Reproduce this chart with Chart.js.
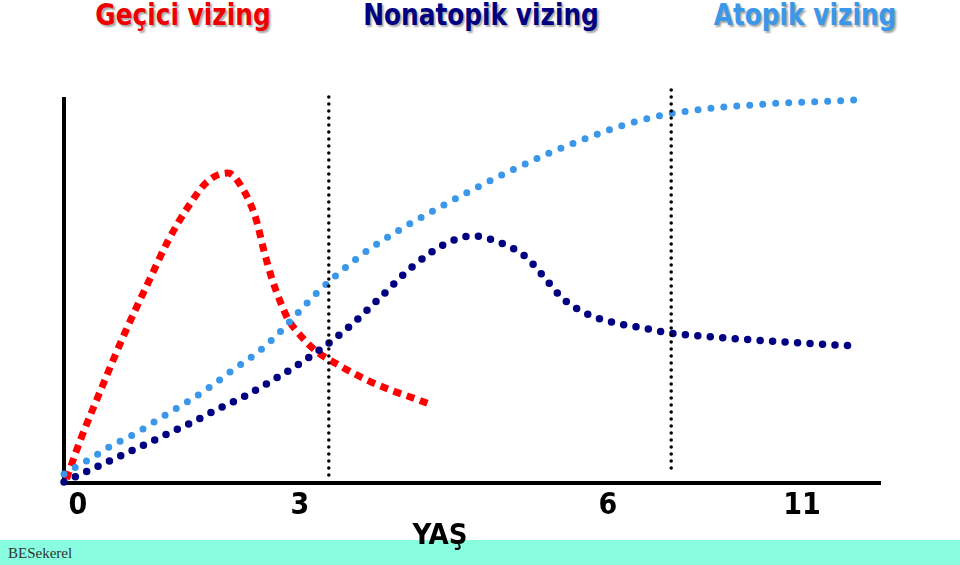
<!DOCTYPE html>
<html>
<head>
<meta charset="utf-8">
<script src="https://cdn.jsdelivr.net/npm/chart.js@4"></script>
<style>
  body { margin: 0; width: 960px; height: 565px; position: relative; overflow: hidden; background: #fff; }
  #footer { position: absolute; left: 0; top: 540px; width: 960px; height: 25px; background: #88fde0; }
  #credit { position: absolute; left: 8px; top: 545px; font: 15px "Liberation Serif", serif; color: #333; }
  .head { position: absolute; top: -3px; width: 300px; text-align: center;
          font-family: "DejaVu Sans Condensed", "DejaVu Sans", sans-serif; font-weight: bold; font-size: 30px;
          transform: scaleX(0.92);
          text-shadow: 2px 2px 2px rgba(0,0,0,0.35); }
  #yas { position: absolute; left: 390px; top: 517px; width: 100px; text-align: center;
         font-family: "DejaVu Sans Condensed", "DejaVu Sans", sans-serif; font-weight: bold; font-size: 29px; color: #000; }
  #wrap { position: absolute; left: 0; top: 0; width: 960px; height: 565px; }
</style>
</head>
<body>
<div id="footer"></div>
<div id="credit">BESekerel</div>
<div class="head" style="left:33px;color:#ee0000">Geçici vizing</div>
<div class="head" style="left:331px;color:#000080">Nonatopik vizing</div>
<div class="head" style="left:655px;color:#3a97ea">Atopik vizing</div>
<div id="wrap"><canvas id="graph" width="960" height="565"></canvas></div>
<div id="yas">YAŞ</div>
<script>
// x is in chart units (0..102), labels for age are placed at tickValues
const tickValues = [1.75, 29.5, 68, 92.25];
const tickLabels = ['0', '3', '6', '11'];

// Geçici vizing (red)
const gecX = [0.3, 2, 4.75, 7.6, 10.5, 13, 15.5, 18, 20.5, 22.5, 24, 25, 26, 27, 28, 29.5, 31.5, 34.5, 37.6, 40.75, 44, 46];
const gecY = [1, 10.5, 24, 37.5, 50, 60.5, 69, 75.5, 77.5, 73, 66, 58, 51, 45.5, 41, 37, 33, 29.3, 26, 23.3, 21, 19.5];

// Nonatopik vizing (navy)
const nonX = [0, 3.25, 6.5, 9.75, 12.9, 16.1, 19.25, 22.4, 25.5, 28.6, 31.6, 35.75, 39.6, 43.5, 47.9, 51.1, 54.6, 57.75, 60.1, 62.4, 65.4, 68.9, 72.4, 75.75, 82.9, 89.9, 99];
const nonY = [0.25, 3.25, 6.25, 9.25, 12.25, 15.25, 18.5, 21.5, 25, 28.75, 32.75, 39.25, 46.5, 54, 60, 61.75, 60, 56.5, 51.25, 46, 42.25, 40, 38.75, 37.5, 36.25, 35.25, 34.25];

// Atopik vizing (light blue)
const atoX = [0, 3, 6.1, 9.25, 12.25, 15.4, 18.25, 21.1, 24.1, 26.75, 29.1, 31.6, 37, 41.5, 46.1, 50.75, 55.5, 60.4, 65.4, 70.4, 75.5, 79.1, 82.6, 86.1, 89.75, 93.25, 98.9];
const atoY = [2.25, 5.75, 9.5, 12.75, 16.5, 20.25, 24, 28.25, 32.5, 37.25, 42.25, 47.5, 56.75, 62.75, 68, 73, 77.75, 82.25, 86.25, 89.75, 92.25, 93.25, 94, 94.5, 95, 95.25, 95.75];

// dotted separators (x, top y, bottom y)
const sepX = [33.1, 75.9];
const sepTop = [96.5, 98.25];
const sepBottom = [1.25, 3.25];

const pts = (xs, ys) => xs.map((x, i) => ({ x: x, y: ys[i] }));

const separators = sepX.map((x, i) => ({
    data: [{ x: x, y: sepTop[i] }, { x: x, y: sepBottom[i] }],
    borderColor: '#000',
    borderWidth: 3.5,
    borderDash: [0, 7],
    borderCapStyle: 'round',
    pointRadius: 0,
    clip: false
}));

const ctx = document.getElementById('graph').getContext('2d');
new Chart(ctx, {
    type: 'line',
    data: {
        datasets: [
            ...separators,
            {
                label: 'Atopik vizing',
                data: pts(atoX, atoY),
                borderColor: '#3a97ea',
                borderWidth: 7,
                borderDash: [0, 13],
                borderCapStyle: 'round',
                cubicInterpolationMode: 'monotone',
                pointRadius: 0,
                clip: false
            },
            {
                label: 'Nonatopik vizing',
                data: pts(nonX, nonY),
                borderColor: '#000080',
                borderWidth: 7.5,
                borderDash: [0, 12.5],
                borderCapStyle: 'round',
                cubicInterpolationMode: 'monotone',
                pointRadius: 0,
                clip: false
            },
            {
                label: 'Geçici vizing',
                data: pts(gecX, gecY),
                borderColor: '#ff0000',
                borderWidth: 7,
                borderDash: [8, 6],
                borderCapStyle: 'butt',
                cubicInterpolationMode: 'monotone',
                pointRadius: 0,
                clip: false
            }
        ]
    },
    options: {
        responsive: false,
        animation: false,
        events: [],
        layout: { padding: { left: 64, right: 80, top: 99, bottom: 0 } },
        plugins: { legend: { display: false }, tooltip: { enabled: false } },
        scales: {
            x: {
                type: 'linear',
                min: 0,
                max: 102,
                grid: { display: false, drawTicks: false },
                border: { display: true, color: '#000', width: 4 },
                afterBuildTicks: scale => { scale.ticks = tickValues.map(v => ({ value: v })); },
                afterFit: scale => { scale.height = 82; },
                ticks: {
                    autoSkip: false,
                    maxRotation: 0,
                    padding: 5,
                    color: '#000',
                    font: { family: '"DejaVu Sans Condensed", "DejaVu Sans", sans-serif', weight: 'bold', size: 30 },
                    callback: (v, i) => tickLabels[i]
                }
            },
            y: {
                min: 0,
                max: 96,
                grid: { display: false, drawTicks: false },
                border: { display: true, color: '#000', width: 4 },
                ticks: { display: false },
                afterFit: scale => { scale.width = 0; }
            }
        }
    }
});
</script>
</body>
</html>
